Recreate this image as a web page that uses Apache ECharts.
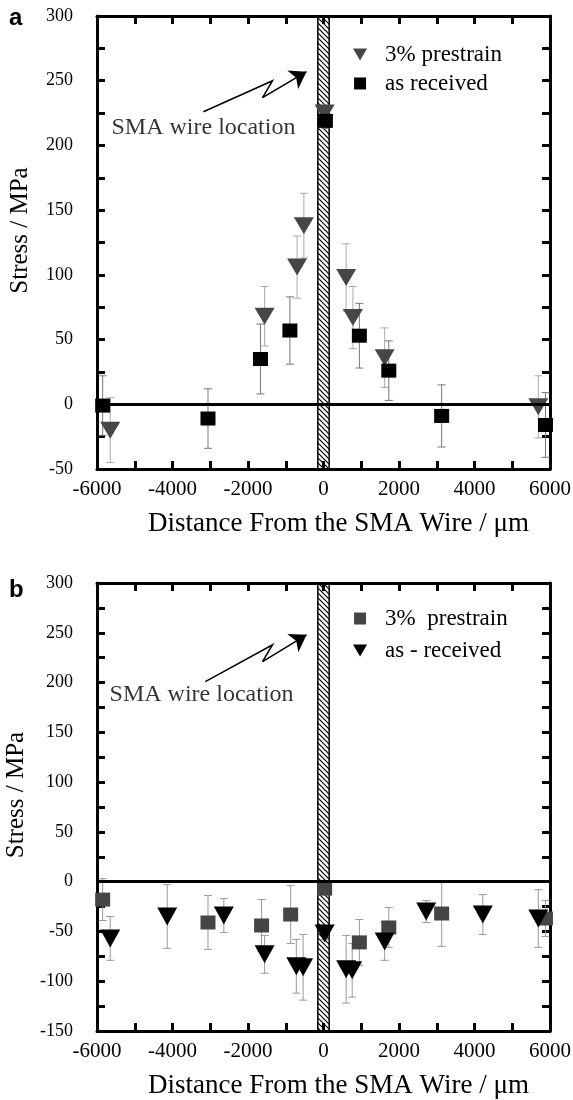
<!DOCTYPE html>
<html>
<head>
<meta charset="utf-8">
<script src="https://cdn.jsdelivr.net/npm/echarts@6/dist/echarts.min.js"></script>
<style>
html, body { margin: 0; padding: 0; background: #fff; }
#main { width: 573px; height: 1100px; }
</style>
</head>
<body>
<div id="main"></div>
<script>
// panel a : 3% prestrain (triangles) and as received (squares)
var aPreX   = [-5650, -1560, -700, -520, 30, 600, 780, 1620, 5690];
var aPreY   = [-20, 68, 106, 138, 225, 98, 67, 36, -2];
var aPreErr = [25, 23, 24, 25, 6, 26, 24, 23, 24];

var aRecX   = [-5850, -3060, -1670, -890, 50, 950, 1730, 3130, 5880];
var aRecY   = [-1, -11, 35, 57, 219, 53, 26, -9, -16];
var aRecErr = [23, 23, 27, 26, 6, 25, 23, 24, 25];

// panel b : 3% prestrain (squares) and as-received (triangles)
var bPreX   = [-5850, -3060, -1640, -870, 30, 950, 1730, 3130, 5880];
var bPreY   = [-18, -41, -44, -33, -7, -61, -46, -32, -37];
var bPreErr = [21, 27, 26, 29, 6, 23, 20, 33, 18];

var bRecX   = [-5650, -4140, -2640, -1560, -720, -540, 30, 600, 760, 1620, 2720, 4220, 5690];
var bRecY   = [-57, -35, -34, -73, -85, -86, -52, -88, -89, -60, -30, -33, -37];
var bRecErr = [22, 32, 17, 19, 27, 33, 6, 34, 27, 19, 11, 20, 29];

// axis ranges
var xMin = -6000, xMax = 6000;
var aYMin = -50, aYMax = 300;
var bYMin = -150, bYMax = 300;
var wireHalf = 150;

// "SMA wire location" note and its zig-zag arrow, in data units
var aNote = [-3180, 214];
var aArrow = [[-3180, 226], [-1350, 250], [-1615, 237], [-450, 257]];
var bNote = [-3230, 188];
var bArrow = [[-3130, 201], [-1350, 238], [-1615, 221], [-450, 248]];

var serif = '"Liberation Serif", serif';
var triPath = 'path://M0,0L20,0L10,17Z';
var sqPath = 'path://M0,0L10,0L10,10L0,10Z';

var chart = echarts.init(document.getElementById('main'));

// diagonal hatch for the wire band
var hatch = document.createElement('canvas');
hatch.width = 5; hatch.height = 5;
var hc = hatch.getContext('2d');
hc.strokeStyle = '#000';
hc.lineWidth = 1.2;
hc.beginPath();
hc.moveTo(0, 0); hc.lineTo(5, 5);
hc.moveTo(-1, 4); hc.lineTo(1, 6);
hc.moveTo(4, -1); hc.lineTo(6, 1);
hc.stroke();

function zip(xs, ys, es) {
  return xs.map(function (x, i) { return [x, ys[i], es[i]]; });
}

function xAxes(gi) {
  var base = {
    type: 'value', gridIndex: gi, min: xMin, max: xMax, interval: 1000,
    axisLine: { onZero: false, lineStyle: { color: '#000', width: 3 } },
    axisTick: { inside: true, length: 8, lineStyle: { color: '#000', width: 3 } },
    splitLine: { show: false }
  };
  return [
    Object.assign({}, base, {
      position: 'bottom',
      name: 'Distance From the SMA Wire / \u03bcm',
      nameLocation: 'middle', nameGap: 41,
      nameTextStyle: { fontFamily: serif, fontSize: 27, color: '#000', padding: [0, 0, 0, 30] },
      axisLabel: {
        fontFamily: serif, fontSize: 21, color: '#000', margin: 10,
        formatter: function (v) { return v % 2000 === 0 ? String(v) : ''; }
      }
    }),
    Object.assign({}, base, { position: 'top', axisLabel: { show: false } })
  ];
}

function yAxes(gi, lo, hi) {
  var base = {
    type: 'value', gridIndex: gi, min: lo, max: hi, interval: 25,
    axisLine: { onZero: false, lineStyle: { color: '#000', width: 3 } },
    axisTick: { inside: true, length: 8, lineStyle: { color: '#000', width: 3 } },
    splitLine: { show: false }
  };
  return [
    Object.assign({}, base, {
      position: 'left',
      name: 'Stress / MPa',
      nameLocation: 'middle', nameGap: 64,
      nameTextStyle: { fontFamily: serif, fontSize: 25, color: '#000', padding: [0, 0, 0, 24] },
      axisLabel: {
        fontFamily: serif, fontSize: 18, color: '#000', margin: 24,
        formatter: function (v) { return v % 50 === 0 ? String(v) : ''; }
      }
    }),
    Object.assign({}, base, { position: 'right', axisLabel: { show: false } })
  ];
}

function errBars(name, data, xi, yi, color) {
  return {
    type: 'custom', name: name + ' err', xAxisIndex: xi, yAxisIndex: yi, z: 2,
    silent: true, data: data,
    renderItem: function (params, api) {
      var x = api.value(0), y = api.value(1), e = api.value(2);
      var t = api.coord([x, y + e]);
      var b = api.coord([x, y - e]);
      var st = { stroke: color, lineWidth: 1 };
      return {
        type: 'group', children: [
          { type: 'line', shape: { x1: t[0], y1: t[1], x2: b[0], y2: b[1] }, style: st },
          { type: 'line', shape: { x1: t[0] - 4, y1: t[1], x2: t[0] + 4, y2: t[1] }, style: st },
          { type: 'line', shape: { x1: b[0] - 4, y1: b[1], x2: b[0] + 4, y2: b[1] }, style: st }
        ]
      };
    }
  };
}

function points(name, data, xi, yi, symbol, size, color) {
  return {
    type: 'scatter', name: name, xAxisIndex: xi, yAxisIndex: yi, z: 3,
    data: data, symbol: symbol, symbolSize: size,
    itemStyle: { color: color, opacity: 1 }, silent: true
  };
}

function frame(xi, yi) {
  return [
    {
      type: 'scatter', xAxisIndex: xi, yAxisIndex: yi, data: [], z: 1, silent: true,
      markArea: {
        silent: true,
        itemStyle: { color: { image: hatch, repeat: 'repeat' }, borderColor: '#000', borderWidth: 1.5 },
        data: [[{ xAxis: -wireHalf }, { xAxis: wireHalf }]]
      }
    },
    {
      type: 'scatter', xAxisIndex: xi, yAxisIndex: yi, data: [], z: 2, silent: true,
      markLine: {
        silent: true, symbol: ['none', 'none'], label: { show: false },
        lineStyle: { color: '#000', width: 3, type: 'solid' },
        data: [{ yAxis: 0 }]
      }
    }
  ];
}

function note(pos, arrow, xi, yi) {
  return [
    {
      type: 'scatter', xAxisIndex: xi, yAxisIndex: yi, z: 4, silent: true,
      data: [pos], symbolSize: 0,
      label: {
        show: true, position: 'inside', formatter: 'SMA wire location',
        fontFamily: serif, fontSize: 24, color: '#000'
      }
    },
    {
      type: 'lines', coordinateSystem: 'cartesian2d', xAxisIndex: xi, yAxisIndex: yi,
      polyline: true, z: 4, silent: true, symbol: 'none',
      lineStyle: { color: '#000', width: 1.5, opacity: 1 },
      data: [{ coords: arrow.slice(0, 3) }]
    },
    {
      type: 'lines', coordinateSystem: 'cartesian2d', xAxisIndex: xi, yAxisIndex: yi,
      z: 4, silent: true, symbol: ['none', 'arrow'], symbolSize: 16,
      lineStyle: { color: '#000', width: 1.5, opacity: 1 },
      data: [{ coords: arrow.slice(2) }]
    }
  ];
}

var legendText = { fontFamily: serif, fontSize: 23, color: '#000' };

var option = {
  animation: false,
  backgroundColor: '#fff',
  grid: [
    { left: 97, right: 23, top: 16, height: 453, outerBoundsMode: 'none', containLabel: false },
    { left: 97, right: 23, top: 583, height: 448, outerBoundsMode: 'none', containLabel: false }
  ],
  xAxis: xAxes(0).concat(xAxes(1)),
  yAxis: yAxes(0, aYMin, aYMax).concat(yAxes(1, bYMin, bYMax)),
  legend: [
    {
      data: ['3% prestrain', 'as received'], orient: 'vertical', left: 348, top: 38,
      itemWidth: 40, itemHeight: 12, itemGap: 6, selectedMode: false, textStyle: legendText
    },
    {
      data: ['3%  prestrain', 'as - received'], orient: 'vertical', left: 348, top: 602,
      itemWidth: 40, itemHeight: 12, itemGap: 9, selectedMode: false, textStyle: legendText
    }
  ],
  graphic: [
    { type: 'text', left: 9, top: 6, style: { text: 'a', font: 'bold 24px "Liberation Sans"', fill: '#000' } },
    { type: 'text', left: 9, top: 578, style: { text: 'b', font: 'bold 24px "Liberation Sans"', fill: '#000' } }
  ],
  series: [].concat(
    frame(0, 0),
    [
      errBars('3% prestrain', zip(aPreX, aPreY, aPreErr), 0, 0, '#aaa'),
      errBars('as received', zip(aRecX, aRecY, aRecErr), 0, 0, '#777'),
      points('3% prestrain', zip(aPreX, aPreY, aPreErr), 0, 0, triPath, [20, 17], '#464646'),
      points('as received', zip(aRecX, aRecY, aRecErr), 0, 0, sqPath, [15, 14], '#000')
    ],
    note(aNote, aArrow, 0, 0),
    frame(2, 2),
    [
      errBars('3%  prestrain', zip(bPreX, bPreY, bPreErr), 2, 2, '#999'),
      errBars('as - received', zip(bRecX, bRecY, bRecErr), 2, 2, '#999'),
      points('3%  prestrain', zip(bPreX, bPreY, bPreErr), 2, 2, sqPath, [15, 14], '#454545'),
      points('as - received', zip(bRecX, bRecY, bRecErr), 2, 2, triPath, [20, 18], '#000')
    ],
    note(bNote, bArrow, 2, 2)
  )
};

chart.setOption(option);
</script>
</body>
</html>
